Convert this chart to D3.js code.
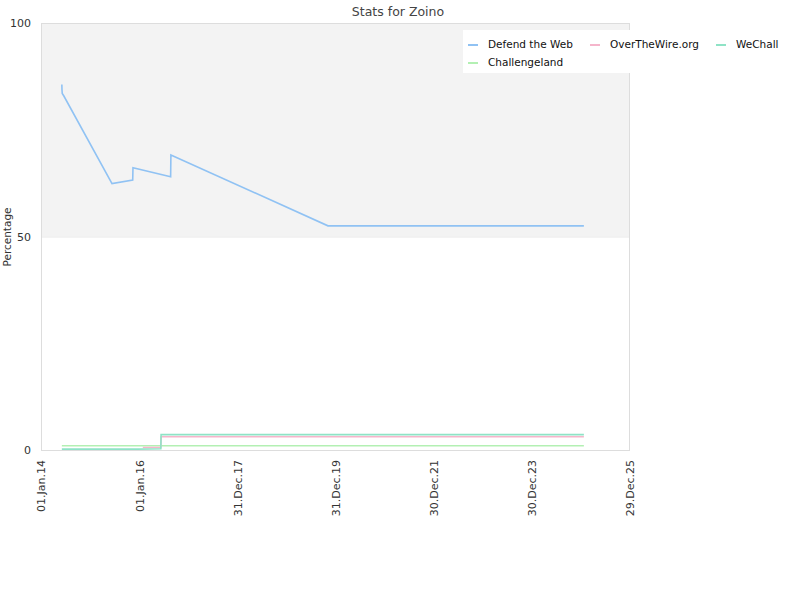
<!DOCTYPE html>
<html><head><meta charset="utf-8">
<script src="https://cdn.jsdelivr.net/npm/d3@7"></script>
<style>body{margin:0;background:#fff;font-family:"DejaVu Sans",sans-serif;}</style>
</head><body><svg id="c" width="800" height="600"></svg>
<script>
const seriesNames = ["Defend the Web", "OverTheWire.org", "WeChall", "Challengeland"];
const seriesColors = ["#90c2f3", "#f5b5cb", "#8fe3c6", "#b3f0b3"];
const defendDates = ["2014-06-05","2014-06-06","2014-06-08","2014-06-20","2015-06-13","2015-11-14","2015-11-16","2016-08-22","2016-08-24","2019-11-05","2025-01-20"];
const defendValues = [85.6, 84.4, 83.5, 82.9, 62.4, 63.2, 66.1, 64.0, 69.1, 52.5, 52.5];
const otwDates = ["2016-01-28","2016-06-10","2016-06-12","2025-01-20"];
const otwValues = [0.6, 0.6, 3.1, 3.1];
const wechallDates = ["2014-06-05","2015-12-20","2016-06-10","2016-06-12","2025-01-20"];
const wechallValues = [0.2, 0.2, 0.3, 3.6, 3.6];
const challDates = ["2014-06-05","2025-01-20"];
const challValues = [1.0, 1.0];
const xTickLabels = ["01.Jan.14","01.Jan.16","31.Dec.17","31.Dec.19","30.Dec.21","30.Dec.23","29.Dec.25"];
const yTicks = [0, 50, 100];

const parse = d3.timeParse("%Y-%m-%d");
const tickParse = d3.timeParse("%d.%b.%y");
const series = [
  {name: seriesNames[0], color: seriesColors[0], pts: defendDates.map((d,i)=>({d:parse(d), v:defendValues[i]}))},
  {name: seriesNames[1], color: seriesColors[1], pts: otwDates.map((d,i)=>({d:parse(d), v:otwValues[i]}))},
  {name: seriesNames[2], color: seriesColors[2], pts: wechallDates.map((d,i)=>({d:parse(d), v:wechallValues[i]}))},
  {name: seriesNames[3], color: seriesColors[3], pts: challDates.map((d,i)=>({d:parse(d), v:challValues[i]}))}
];
const tickDates = xTickLabels.map(t => tickParse(t));

const L = 41, R = 630, T = 23, B = 450;
const svg = d3.select("#c");
const x = d3.scaleTime().domain([tickDates[0], tickDates[tickDates.length-1]]).range([L, R]);
const y = d3.scaleLinear().domain([0, 100]).range([B, T]);

// background band 50-100
svg.append("rect").attr("x", L).attr("y", y(100)).attr("width", R-L).attr("height", y(50)-y(100)).attr("fill", "#f3f3f3");
svg.append("line").attr("x1", L).attr("x2", R).attr("y1", y(50)+0.5).attr("y2", y(50)+0.5).attr("stroke", "#e8e8e8");
svg.append("rect").attr("x", L+0.5).attr("y", T+0.5).attr("width", R-L-1).attr("height", B-T).attr("fill", "none").attr("stroke", "#dddddd");

// title
svg.append("text").attr("x", 398).attr("y", 16).attr("text-anchor", "middle").attr("font-size", 12.5).attr("fill", "#444").text("Stats for Zoino");
svg.append("text").attr("transform", "translate(11,237) rotate(-90)").attr("text-anchor", "middle").attr("font-size", 10.5).attr("fill", "#333").text("Percentage");

// y axis
const yAxis = d3.axisLeft(y).tickValues(yTicks).tickSize(0).tickPadding(0);
const gy = svg.append("g").attr("transform", `translate(${L-10},0)`).call(yAxis);
gy.select(".domain").remove();
gy.selectAll("text").attr("font-size", 11).attr("fill", "#333").attr("font-family", "DejaVu Sans").attr("dy", "0.35em");

// x axis
const xAxis = d3.axisBottom(x).tickValues(tickDates).tickSize(0).tickFormat((d,i)=>xTickLabels[i]);
const gx = svg.append("g").attr("transform", `translate(0,${B+10})`).call(xAxis);
gx.select(".domain").remove();
gx.selectAll("text").attr("font-size", 11).attr("fill", "#333").attr("font-family", "DejaVu Sans")
  .attr("transform", "rotate(-90)").attr("text-anchor", "end").attr("x", 0).attr("y", 0).attr("dy", "0.35em");

// lines
const line = d3.line().x(p=>x(p.d)).y(p=>y(p.v));
const drawOrder = [3, 1, 2, 0];
drawOrder.forEach(i => {
  svg.append("path").datum(series[i].pts).attr("d", line).attr("fill", "none")
    .attr("stroke", series[i].color).attr("stroke-width", 1.6);
});

// legend
const lg = svg.append("g");
lg.append("rect").attr("x", 463).attr("y", 30).attr("width", 337).attr("height", 43).attr("fill", "#fff");
const legendPos = [[468, 44], [590, 44], [716, 44], [468, 62]];
series.forEach((s, i) => {
  const [lx, ly] = legendPos[i];
  lg.append("line").attr("x1", lx).attr("x2", lx+10).attr("y1", ly+1).attr("y2", ly+1).attr("stroke", s.color).attr("stroke-width", 2);
  lg.append("text").attr("x", lx+20).attr("y", ly).attr("dy", "0.35em").attr("font-size", 10.5).attr("fill", "#111").text(s.name);
});
</script></body></html>
